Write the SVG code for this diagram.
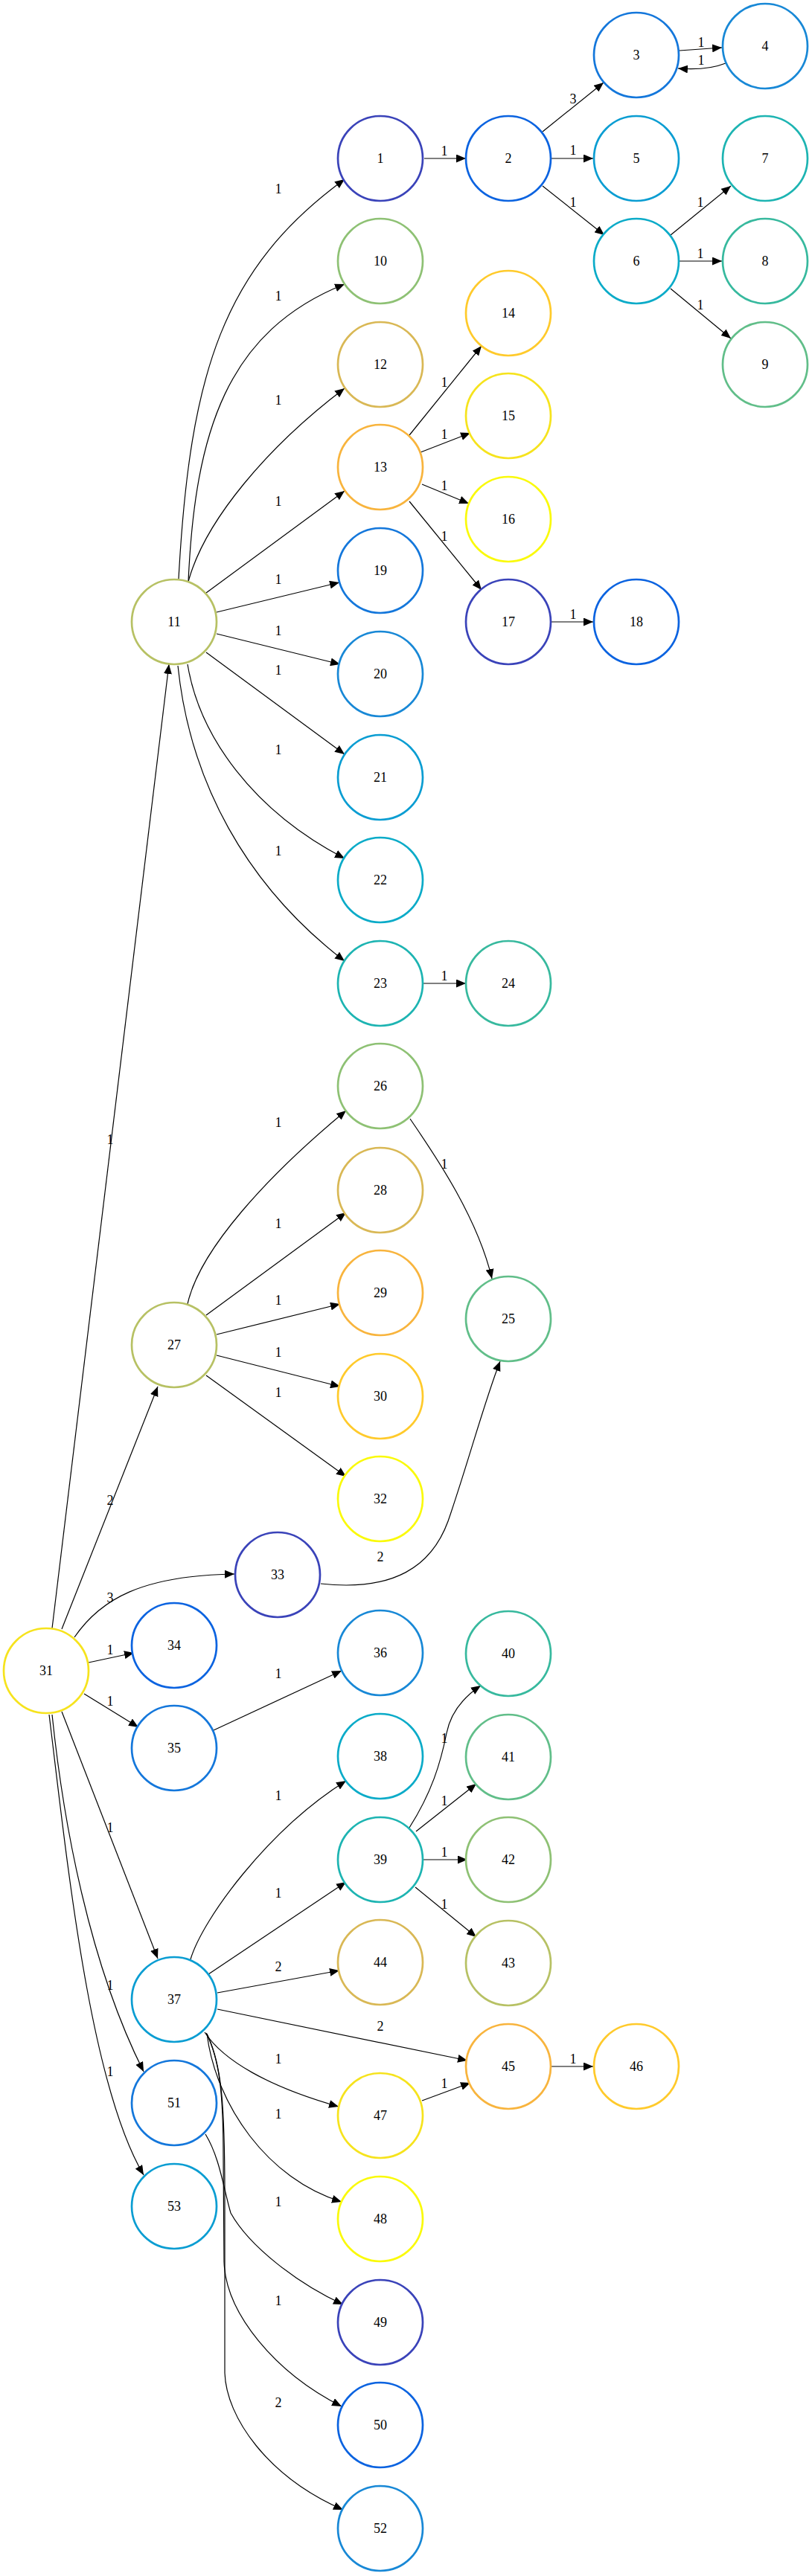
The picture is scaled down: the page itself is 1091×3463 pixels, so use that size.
<svg xmlns="http://www.w3.org/2000/svg" width="1091" height="3463" viewBox="0 0 1091 3463">
<defs>
<marker id="arr" viewBox="0 0 13 11" refX="13" refY="5.5" markerWidth="13" markerHeight="11" markerUnits="userSpaceOnUse" orient="auto"><path d="M0,0 L13,5.5 L0,11 z" fill="#000"/></marker>
<style>
.node circle{fill:#fff;stroke-width:2.7}
text{font-family:"Liberation Serif","Times New Roman",serif;font-size:18px;text-anchor:middle;fill:#000}
.edges path{fill:none;stroke:#000;stroke-width:1.2;marker-end:url(#arr)}
.c0{stroke:#3A43B9}.c1{stroke:#0B63E0}.c2{stroke:#1477DB}.c3{stroke:#1888D6}
.c4{stroke:#0A9DD2}.c5{stroke:#0BABC8}.c6{stroke:#1DB4B2}.c7{stroke:#37B99E}
.c8{stroke:#61BE89}.c9{stroke:#8EC174}.c10{stroke:#B7C164}.c11{stroke:#D9B855}
.c12{stroke:#F8B43D}.c13{stroke:#FFCA2B}.c14{stroke:#F6E31D}.c15{stroke:#FAFA0A}
</style>
</defs>
<rect width="1091" height="3463" fill="#fff"/>
<g class="edges" id="edges">
<path d="M240,778 C255,500 300,360 463,241"/>
<path d="M253,782 C262,580 305,445 463,382"/>
<path d="M253,782 C275,700 360,600 463,522"/>
<path d="M277,797 L463,660"/>
<path d="M291,823 L456,783"/>
<path d="M291,852 L457,893"/>
<path d="M277,877 L463,1014"/>
<path d="M252,893 C268,990 340,1090 463,1154"/>
<path d="M239,895 C255,1050 330,1190 463,1292"/>
<path d="M70,2189 L227,893"/>
<path d="M570,213 L626,213"/>
<path d="M729,177 L811,111"/>
<path d="M741,213 L797,213"/>
<path d="M729,250 L812,316"/>
<path d="M913,68 L970,64"/>
<path d="M975,85 Q950,95 911,92"/>
<path d="M901,316 L982,250"/>
<path d="M913,351 L970,351"/>
<path d="M901,388 L982,455"/>
<path d="M550,585 L647,465"/>
<path d="M565,608 L632,582"/>
<path d="M567,651 L630,677"/>
<path d="M550,674 L647,793"/>
<path d="M741,836 L797,836"/>
<path d="M569,1322 L626,1322"/>
<path d="M252,1753 C268,1680 360,1580 465,1493"/>
<path d="M277,1768 L465,1630"/>
<path d="M291,1794 L457,1753"/>
<path d="M291,1822 L457,1864"/>
<path d="M277,1849 L465,1985"/>
<path d="M551,1504 C575,1540 640,1630 661,1719"/>
<path d="M431,2129 C530,2140 580,2105 602,2045 C628,1970 652,1880 672,1830"/>
<path d="M83,2190 L212,1864"/>
<path d="M100,2201 C135,2150 190,2118 315,2116"/>
<path d="M119,2235 L180,2222"/>
<path d="M113,2277 L186,2322"/>
<path d="M83,2301 L212,2633"/>
<path d="M70,2305 C85,2450 120,2640 193,2785"/>
<path d="M66,2305 C90,2500 120,2800 193,2924"/>
<path d="M287,2326 L459,2246"/>
<path d="M256,2634 C272,2580 360,2460 465,2394"/>
<path d="M280,2654 L465,2530"/>
<path d="M292,2679 L456,2649"/>
<path d="M292,2701 L628,2770"/>
<path d="M275,2732 C300,2770 360,2805 455,2832"/>
<path d="M278,2734 C290,2830 360,2930 459,2960"/>
<path d="M277,2733 C296,2770 300,2820 300,2900 L301,3040 C303,3110 370,3190 459,3235"/>
<path d="M278,2734 C298,2775 302,2830 302,2950 L302,3190 C304,3250 360,3330 461,3374"/>
<path d="M276,2869 C295,2900 300,2940 310,2975 C335,3020 400,3070 461,3098"/>
<path d="M550,2457 C580,2410 592,2370 600,2330 C606,2300 625,2280 646,2266"/>
<path d="M559,2462 L640,2398"/>
<path d="M569,2500 L628,2500"/>
<path d="M558,2537 L640,2604"/>
<path d="M741,2778 L797,2778"/>
<path d="M567,2824 L632,2800"/>
</g>
<g id="edge-labels">
<text x="374" y="260">1</text>
<text x="597" y="209">1</text>
<text x="770" y="139">3</text>
<text x="770" y="208">1</text>
<text x="770" y="278">1</text>
<text x="942" y="63">1</text>
<text x="942" y="87">1</text>
<text x="941" y="278">1</text>
<text x="941" y="347">1</text>
<text x="941" y="416">1</text>
<text x="374" y="404">1</text>
<text x="374" y="544">1</text>
<text x="597" y="520">1</text>
<text x="597" y="590">1</text>
<text x="374" y="680">1</text>
<text x="597" y="659">1</text>
<text x="597" y="727">1</text>
<text x="374" y="785">1</text>
<text x="374" y="854">1</text>
<text x="770" y="832">1</text>
<text x="374" y="907">1</text>
<text x="374" y="1014">1</text>
<text x="374" y="1150">1</text>
<text x="597" y="1318">1</text>
<text x="374" y="1515">1</text>
<text x="148" y="1538">1</text>
<text x="597" y="1571">1</text>
<text x="374" y="1651">1</text>
<text x="374" y="1754">1</text>
<text x="374" y="1824">1</text>
<text x="374" y="1878">1</text>
<text x="148" y="2023">2</text>
<text x="511" y="2099">2</text>
<text x="148" y="2154">3</text>
<text x="148" y="2224">1</text>
<text x="374" y="2256">1</text>
<text x="148" y="2293">1</text>
<text x="374" y="2420">1</text>
<text x="597" y="2343">1</text>
<text x="597" y="2427">1</text>
<text x="148" y="2463">1</text>
<text x="597" y="2496">1</text>
<text x="374" y="2551">1</text>
<text x="597" y="2566">1</text>
<text x="374" y="2650">2</text>
<text x="148" y="2675">1</text>
<text x="511" y="2730">2</text>
<text x="770" y="2774">1</text>
<text x="374" y="2774">1</text>
<text x="148" y="2791">1</text>
<text x="597" y="2807">1</text>
<text x="374" y="2848">1</text>
<text x="374" y="2966">1</text>
<text x="374" y="3099">1</text>
<text x="374" y="3236">2</text>
</g>
<g id="n1" class="node"><circle class="c0" cx="511" cy="213" r="57"/><text x="511" y="219">1</text></g>
<g id="n2" class="node"><circle class="c1" cx="683" cy="213" r="57"/><text x="683" y="219">2</text></g>
<g id="n3" class="node"><circle class="c2" cx="855" cy="74" r="57"/><text x="855" y="80">3</text></g>
<g id="n4" class="node"><circle class="c3" cx="1028" cy="62" r="57"/><text x="1028" y="68">4</text></g>
<g id="n5" class="node"><circle class="c4" cx="855" cy="213" r="57"/><text x="855" y="219">5</text></g>
<g id="n6" class="node"><circle class="c5" cx="855" cy="351" r="57"/><text x="855" y="357">6</text></g>
<g id="n7" class="node"><circle class="c6" cx="1028" cy="213" r="57"/><text x="1028" y="219">7</text></g>
<g id="n8" class="node"><circle class="c7" cx="1028" cy="351" r="57"/><text x="1028" y="357">8</text></g>
<g id="n9" class="node"><circle class="c8" cx="1028" cy="490" r="57"/><text x="1028" y="496">9</text></g>
<g id="n10" class="node"><circle class="c9" cx="511" cy="351" r="57"/><text x="511" y="357">10</text></g>
<g id="n11" class="node"><circle class="c10" cx="234" cy="836" r="57"/><text x="234" y="842">11</text></g>
<g id="n12" class="node"><circle class="c11" cx="511" cy="490" r="57"/><text x="511" y="496">12</text></g>
<g id="n13" class="node"><circle class="c12" cx="511" cy="628" r="57"/><text x="511" y="634">13</text></g>
<g id="n14" class="node"><circle class="c13" cx="683" cy="421" r="57"/><text x="683" y="427">14</text></g>
<g id="n15" class="node"><circle class="c14" cx="683" cy="559" r="57"/><text x="683" y="565">15</text></g>
<g id="n16" class="node"><circle class="c15" cx="683" cy="698" r="57"/><text x="683" y="704">16</text></g>
<g id="n17" class="node"><circle class="c0" cx="683" cy="836" r="57"/><text x="683" y="842">17</text></g>
<g id="n18" class="node"><circle class="c1" cx="855" cy="836" r="57"/><text x="855" y="842">18</text></g>
<g id="n19" class="node"><circle class="c2" cx="511" cy="767" r="57"/><text x="511" y="773">19</text></g>
<g id="n20" class="node"><circle class="c3" cx="511" cy="906" r="57"/><text x="511" y="912">20</text></g>
<g id="n21" class="node"><circle class="c4" cx="511" cy="1045" r="57"/><text x="511" y="1051">21</text></g>
<g id="n22" class="node"><circle class="c5" cx="511" cy="1183" r="57"/><text x="511" y="1189">22</text></g>
<g id="n23" class="node"><circle class="c6" cx="511" cy="1322" r="57"/><text x="511" y="1328">23</text></g>
<g id="n24" class="node"><circle class="c7" cx="683" cy="1322" r="57"/><text x="683" y="1328">24</text></g>
<g id="n25" class="node"><circle class="c8" cx="683" cy="1773" r="57"/><text x="683" y="1779">25</text></g>
<g id="n26" class="node"><circle class="c9" cx="511" cy="1460" r="57"/><text x="511" y="1466">26</text></g>
<g id="n27" class="node"><circle class="c10" cx="234" cy="1808" r="57"/><text x="234" y="1814">27</text></g>
<g id="n28" class="node"><circle class="c11" cx="511" cy="1600" r="57"/><text x="511" y="1606">28</text></g>
<g id="n29" class="node"><circle class="c12" cx="511" cy="1738" r="57"/><text x="511" y="1744">29</text></g>
<g id="n30" class="node"><circle class="c13" cx="511" cy="1877" r="57"/><text x="511" y="1883">30</text></g>
<g id="n31" class="node"><circle class="c14" cx="62" cy="2246" r="57"/><text x="62" y="2252">31</text></g>
<g id="n32" class="node"><circle class="c15" cx="511" cy="2015" r="57"/><text x="511" y="2021">32</text></g>
<g id="n33" class="node"><circle class="c0" cx="373" cy="2117" r="57"/><text x="373" y="2123">33</text></g>
<g id="n34" class="node"><circle class="c1" cx="234" cy="2212" r="57"/><text x="234" y="2218">34</text></g>
<g id="n35" class="node"><circle class="c2" cx="234" cy="2350" r="57"/><text x="234" y="2356">35</text></g>
<g id="n36" class="node"><circle class="c3" cx="511" cy="2222" r="57"/><text x="511" y="2228">36</text></g>
<g id="n37" class="node"><circle class="c4" cx="234" cy="2688" r="57"/><text x="234" y="2694">37</text></g>
<g id="n38" class="node"><circle class="c5" cx="511" cy="2361" r="57"/><text x="511" y="2367">38</text></g>
<g id="n39" class="node"><circle class="c6" cx="511" cy="2500" r="57"/><text x="511" y="2506">39</text></g>
<g id="n40" class="node"><circle class="c7" cx="683" cy="2223" r="57"/><text x="683" y="2229">40</text></g>
<g id="n41" class="node"><circle class="c8" cx="683" cy="2362" r="57"/><text x="683" y="2368">41</text></g>
<g id="n42" class="node"><circle class="c9" cx="683" cy="2500" r="57"/><text x="683" y="2506">42</text></g>
<g id="n43" class="node"><circle class="c10" cx="683" cy="2639" r="57"/><text x="683" y="2645">43</text></g>
<g id="n44" class="node"><circle class="c11" cx="511" cy="2638" r="57"/><text x="511" y="2644">44</text></g>
<g id="n45" class="node"><circle class="c12" cx="683" cy="2778" r="57"/><text x="683" y="2784">45</text></g>
<g id="n46" class="node"><circle class="c13" cx="855" cy="2778" r="57"/><text x="855" y="2784">46</text></g>
<g id="n47" class="node"><circle class="c14" cx="511" cy="2844" r="57"/><text x="511" y="2850">47</text></g>
<g id="n48" class="node"><circle class="c15" cx="511" cy="2983" r="57"/><text x="511" y="2989">48</text></g>
<g id="n49" class="node"><circle class="c0" cx="511" cy="3122" r="57"/><text x="511" y="3128">49</text></g>
<g id="n50" class="node"><circle class="c1" cx="511" cy="3260" r="57"/><text x="511" y="3266">50</text></g>
<g id="n51" class="node"><circle class="c2" cx="234" cy="2827" r="57"/><text x="234" y="2833">51</text></g>
<g id="n52" class="node"><circle class="c3" cx="511" cy="3399" r="57"/><text x="511" y="3405">52</text></g>
<g id="n53" class="node"><circle class="c4" cx="234" cy="2966" r="57"/><text x="234" y="2972">53</text></g>
</svg>
